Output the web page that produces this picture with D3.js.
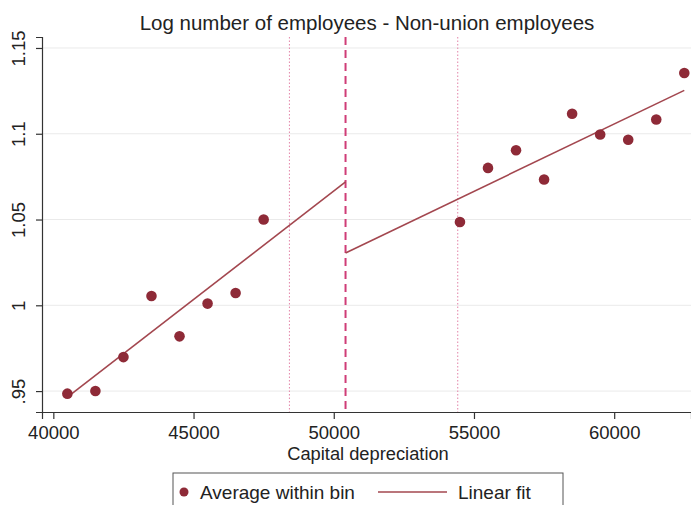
<!DOCTYPE html>
<html>
<head>
<meta charset="utf-8">
<script src="https://cdn.jsdelivr.net/npm/d3@7"></script>
<style>
  body { margin: 0; background: #fff; }
  svg { display: block; font-family: "Liberation Sans", Arial, sans-serif; }
</style>
</head>
<body>
<svg id="chart" width="691" height="505"></svg>
<script>
// ---- data ----
const binX = [40500, 41500, 42500, 43500, 44500, 45500, 46500, 47500,
              54500, 55500, 56500, 57500, 58500, 59500, 60500, 61500, 62500];
const binY = [0.9485, 0.950, 0.9698, 1.0054, 0.9819, 1.001, 1.0072, 1.050,
              1.0486, 1.0801, 1.0904, 1.0733, 1.1117, 1.0996, 1.0965, 1.1083, 1.1354];
const fitLeftX = [40500, 50420];
const fitLeftY = [0.9465, 1.0719];
const fitRightX = [50420, 62500];
const fitRightY = [1.0305, 1.1253];
const cutoff = 50420;
const bandLines = [48420, 54420];
const xTicks = [40000, 45000, 50000, 55000, 60000];
const yTicks = [0.95, 1, 1.05, 1.1, 1.15];
const yTickLabels = [".95", "1", "1.05", "1.1", "1.15"];
const title = "Log number of employees - Non-union employees";
const xTitle = "Capital depreciation";
const legendLabels = ["Average within bin", "Linear fit"];

// ---- layout ----
const svg = d3.select("#chart");
const L = 42, R = 691, T = 37, B = 412;
const x = d3.scaleLinear().domain([39596, 62739]).range([L, R]);
const y = d3.scaleLinear().domain([0.9378, 1.1564]).range([B, T]);

const markerColor = "#8E2A37";
const lineColor = "#A3474F";
const cutColor = "#CF3D77";
const FONT = "Liberation Sans, Arial, sans-serif";

// gridlines
svg.append("g").selectAll("line").data(yTicks).join("line")
  .attr("x1", L).attr("x2", R)
  .attr("y1", d => y(d)).attr("y2", d => y(d))
  .attr("stroke", "#EAEAEA").attr("stroke-width", 1);

// band dotted lines
svg.append("g").selectAll("line").data(bandLines).join("line")
  .attr("x1", d => x(d)).attr("x2", d => x(d))
  .attr("y1", T).attr("y2", B)
  .attr("stroke", "#E58FB0").attr("stroke-width", 1.1)
  .attr("stroke-dasharray", "1.5,2");

// cutoff dashed line
svg.append("line")
  .attr("x1", x(cutoff)).attr("x2", x(cutoff))
  .attr("y1", T).attr("y2", B)
  .attr("stroke", cutColor).attr("stroke-width", 2)
  .attr("stroke-dasharray", "8,5");

// fit lines
const line = d3.line().x(d => x(d[0])).y(d => y(d[1]));
[[fitLeftX, fitLeftY], [fitRightX, fitRightY]].forEach(([xs, ys]) => {
  svg.append("path")
    .datum(xs.map((v, i) => [v, ys[i]]))
    .attr("d", line)
    .attr("fill", "none")
    .attr("stroke", lineColor).attr("stroke-width", 1.6);
});

// points
svg.append("g").selectAll("circle").data(binX.map((v, i) => [v, binY[i]])).join("circle")
  .attr("cx", d => x(d[0])).attr("cy", d => y(d[1]))
  .attr("r", 5.3).attr("fill", markerColor);

// axes
const xAxis = d3.axisBottom(x).tickValues(xTicks).tickFormat(d3.format("d")).tickSizeOuter(0).tickSize(7);
const gx = svg.append("g").attr("transform", `translate(0,${B})`).call(xAxis);
gx.select(".domain").attr("stroke", "#333").attr("stroke-width", 1.2);
gx.selectAll(".tick line").attr("stroke", "#333").attr("stroke-width", 1.2);
gx.selectAll(".tick text").attr("font-size", 18.5).attr("fill", "#222")
  .attr("y", 27).attr("dy", 0)
  .attr("font-family", FONT);

const yAxis = d3.axisLeft(y).tickValues(yTicks).tickFormat((d, i) => yTickLabels[i]).tickSizeOuter(0).tickSize(6);
const gy = svg.append("g").attr("transform", `translate(${L},0)`).call(yAxis);
gy.select(".domain").attr("stroke", "#333").attr("stroke-width", 1.2);
gy.selectAll(".tick line").attr("stroke", "#333").attr("stroke-width", 1.2);
gy.selectAll(".tick text")
  .attr("font-size", 18.5).attr("fill", "#222")
  .attr("font-family", FONT)
  .attr("x", 0)
  .attr("text-anchor", "middle")
  .attr("transform", "translate(-23,0) rotate(-90)")
  .attr("dy", "0.35em");

// title
svg.append("text").attr("x", 367).attr("y", 29.5).attr("text-anchor", "middle")
  .attr("font-family", FONT)
  .attr("font-size", 20.5).attr("fill", "#222").text(title);

// x title
svg.append("text").attr("x", 368).attr("y", 460).attr("text-anchor", "middle")
  .attr("font-family", FONT)
  .attr("font-size", 18.3).attr("fill", "#222").text(xTitle);

// legend
const lg = svg.append("g");
lg.append("rect").attr("x", 173).attr("y", 473).attr("width", 390).attr("height", 40)
  .attr("fill", "#fff").attr("stroke", "#555").attr("stroke-width", 1);
lg.append("circle").attr("cx", 184).attr("cy", 492).attr("r", 4.5).attr("fill", markerColor);
lg.append("text").attr("x", 200).attr("y", 498.5).attr("font-size", 19).attr("fill", "#222")
  .attr("font-family", FONT).text(legendLabels[0]);
lg.append("line").attr("x1", 378).attr("x2", 447).attr("y1", 492).attr("y2", 492)
  .attr("stroke", lineColor).attr("stroke-width", 1.6);
lg.append("text").attr("x", 458).attr("y", 498.5).attr("font-size", 19).attr("fill", "#222")
  .attr("font-family", FONT).text(legendLabels[1]);
</script>
</body>
</html>
